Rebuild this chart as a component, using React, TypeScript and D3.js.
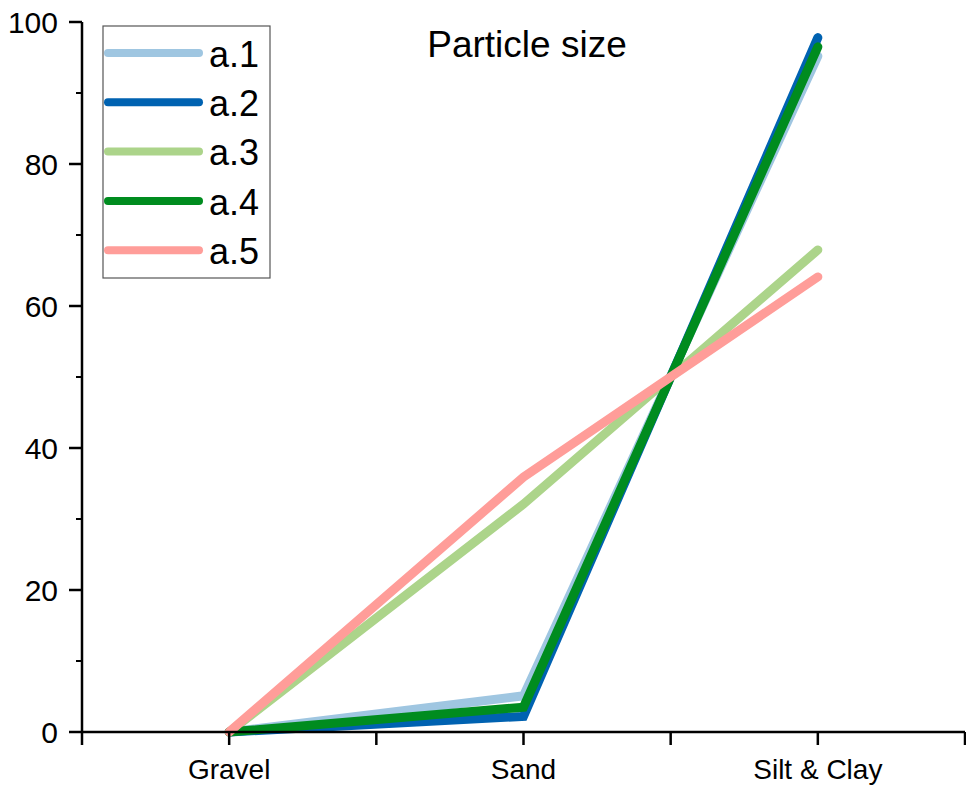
import React from "react";
import * as d3 from "d3";

const categories = ["Gravel", "Sand", "Silt & Clay"];
const seriesNames = ["a.1", "a.2", "a.3", "a.4", "a.5"];
const seriesColors = ["#9fc6e1", "#0062b1", "#acd48a", "#008c1f", "#ff9d99"];
const a1 = [0, 5.1, 95.2];
const a2 = [0, 2.2, 97.8];
const a3 = [0, 32.1, 67.9];
const a4 = [0, 3.5, 96.5];
const a5 = [0, 35.9, 64.1];
const seriesValues = [a1, a2, a3, a4, a5];
const yTicks = [0, 20, 40, 60, 80, 100];
const yMinorTicks = [10, 30, 50, 70, 90];

export default function App() {
  const W = 966, H = 793;
  const x = d3.scaleLinear().domain([0, 6]).range([82, 965]);
  const y = d3.scaleLinear().domain([0, 100]).range([732, 22]);
  const catPos = (i: number) => 1 + i * 2;
  const line = d3.line<number>().x((_, i) => x(catPos(i))).y((v) => y(v));
  const font = "Liberation Sans, Arial, sans-serif";
  const xTicks = d3.range(0, 7);
  return (
    <svg width={W} height={H} style={{ position: "absolute", left: 0, top: 0 }} fontFamily={font}>
      <rect width={W} height={H} fill="#fff" />
      {seriesValues.map((vals, k) => (
        <path key={k} d={line(vals) || ""} fill="none" stroke={seriesColors[k]} strokeWidth={9}
          strokeLinecap="round" strokeLinejoin="miter" />
      ))}
      {/* axes */}
      <line x1={x(0)} x2={x(0)} y1={y(100)} y2={y(0)} stroke="#000" strokeWidth={2.5} />
      <line x1={x(0)} x2={x(6)} y1={y(0)} y2={y(0)} stroke="#000" strokeWidth={2.5} />
      {yTicks.map((t) => (
        <g key={t}>
          <line x1={x(0) - 13} x2={x(0)} y1={y(t)} y2={y(t)} stroke="#000" strokeWidth={2.5} />
          <text x={x(0) - 24} y={y(t)} dy="0.36em" textAnchor="end" fontSize={30}>{t}</text>
        </g>
      ))}
      {yMinorTicks.map((t) => (
        <line key={t} x1={x(0) - 6} x2={x(0)} y1={y(t)} y2={y(t)} stroke="#000" strokeWidth={2} />
      ))}
      {xTicks.map((t) => (
        <line key={t} x1={x(t)} x2={x(t)} y1={y(0)} y2={y(0) + 13} stroke="#000" strokeWidth={2.5} />
      ))}
      {categories.map((c, i) => (
        <text key={c} x={x(catPos(i))} y={y(0) + 47} textAnchor="middle" fontSize={28}>{c}</text>
      ))}
      <text x={527} y={57} textAnchor="middle" fontSize={37}>Particle size</text>
      {/* legend */}
      <rect x={103} y={26} width={167} height={252} fill="none" stroke="#555" strokeWidth={1.2} />
      {seriesNames.map((n, k) => {
        const ly = 53 + k * 49.3;
        return (
          <g key={n}>
            <line x1={108} x2={199} y1={ly} y2={ly} stroke={seriesColors[k]} strokeWidth={8} strokeLinecap="round" />
            <text x={209} y={ly} dy="0.38em" fontSize={36}>{n}</text>
          </g>
        );
      })}
    </svg>
  );
}
